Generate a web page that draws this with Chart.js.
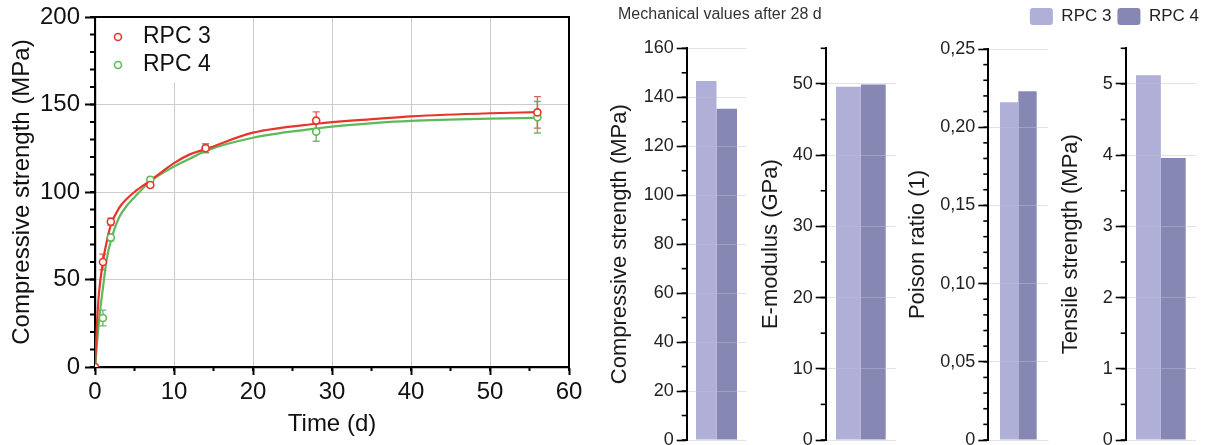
<!DOCTYPE html>
<html>
<head>
<meta charset="utf-8">
<script src="https://cdn.jsdelivr.net/npm/chart.js@4.4.1/dist/chart.umd.min.js"></script>
<style>
  body { margin: 0; background: #fff; overflow: hidden; }
  #wrap { position: relative; width: 1205px; height: 445px; }
  canvas { position: absolute; left: 0; top: 0; }
</style>
</head>
<body>
<div id="wrap">
  <canvas id="growth" width="1205" height="445"></canvas>
  <canvas id="bar1" width="1205" height="445"></canvas>
  <canvas id="bar2" width="1205" height="445"></canvas>
  <canvas id="bar3" width="1205" height="445"></canvas>
  <canvas id="bar4" width="1205" height="445"></canvas>
</div>
<script>
// strength development (measured)
const days = [0, 1, 2, 7, 14, 28, 56];
const rpc3 = [0, 60, 83, 104, 125, 140.8, 145.5];
const rpc4 = [0, 28, 74, 107, 125, 134.5, 142.7];
const rpc3Err = [0, 4.5, 2, 1.5, 2.5, 5, 9];
const rpc4Err = [0, 4.5, 2, 1.5, 2.5, 5.5, 9];

// fitted curves
const fitDays = [0, 0.25, 0.5, 1, 1.5, 2, 3, 4, 5, 7, 10, 12, 14, 20, 28, 36, 40, 50, 56];
const fit3 = [0, 25, 42, 60, 72, 81, 90.5, 96, 100, 106.5, 116.5, 121.5, 124.5, 133.9, 139, 141.9, 143.2, 145, 145.6];
const fit4 = [0, 13, 26, 45, 62, 72, 85, 92, 97, 106, 114.5, 119, 123.5, 131, 136.3, 139.6, 140.6, 141.9, 142.4];

// mechanical values after 28 d
const groups = ['RPC 3', 'RPC 4'];
const compressive28 = [146.6, 135.3];
const eModulus28 = [49.6, 49.9];
const poisson28 = [0.216, 0.223];
const tensile28 = [5.12, 3.96];

const RED = '#e8352b', GREEN = '#5dba5a';
const barColors = ['#afafd7', '#8787b3'];

Chart.defaults.font.family = '"Liberation Sans", Arial, Helvetica, sans-serif';
Chart.defaults.color = '#1a1a1a';

const minorTicks = {
  id: 'minorTicks',
  afterDraw(chart, args, opts) {
    const ctx = chart.ctx;
    ctx.save();
    ctx.strokeStyle = '#000';
    ctx.lineWidth = opts.width || 1.5;
    (opts.axes || []).forEach(a => {
      const sc = chart.scales[a.id];
      const n = Math.round((sc.max - sc.min) / a.step);
      for (let i = 0; i <= n; i++) {
        const p = sc.getPixelForValue(sc.min + i * a.step);
        ctx.beginPath();
        if (sc.isHorizontal()) { ctx.moveTo(p, sc.top); ctx.lineTo(p, sc.top + a.len); }
        else { ctx.moveTo(sc.right - a.len, p); ctx.lineTo(sc.right, p); }
        ctx.stroke();
      }
    });
    ctx.restore();
  }
};

const errorBars = {
  id: 'errorBars',
  beforeDatasetsDraw(chart) {
    const {ctx, scales: {x, y}} = chart;
    chart.data.datasets.forEach(ds => {
      if (!ds.errors) return;
      ctx.save();
      ctx.strokeStyle = ds.errorColor;
      ctx.lineWidth = 1.4;
      ds.data.forEach((pt, j) => {
        const e = ds.errors[j];
        if (!e) return;
        const px = x.getPixelForValue(pt.x);
        const t = y.getPixelForValue(pt.y + e), b = y.getPixelForValue(pt.y - e);
        ctx.beginPath();
        ctx.moveTo(px, t); ctx.lineTo(px, b);
        ctx.moveTo(px - 3.5, t); ctx.lineTo(px + 3.5, t);
        ctx.moveTo(px - 3.5, b); ctx.lineTo(px + 3.5, b);
        ctx.stroke();
      });
      ctx.restore();
    });
  }
};

const markerLegend = {
  id: 'markerLegend',
  beforeDatasetsDraw(chart, args, o) {
    const {ctx, chartArea: a} = chart;
    ctx.save();
    ctx.fillStyle = '#fff';
    ctx.fillRect(a.left + 1.5, a.top + 1.5, o.boxW, o.boxH);
    ctx.restore();
  },
  afterDraw(chart, args, o) {
    const {ctx, chartArea: a} = chart;
    const items = chart.data.datasets.filter(d => d.errors);
    ctx.save();
    ctx.font = o.font;
    ctx.textBaseline = 'middle';
    items.forEach((d, i) => {
      const y = a.top + o.y + i * o.row;
      ctx.beginPath();
      ctx.arc(a.left + o.x, y, d.pointRadius, 0, Math.PI * 2);
      ctx.fillStyle = '#fff';
      ctx.fill();
      ctx.lineWidth = d.pointBorderWidth;
      ctx.strokeStyle = d.borderColor;
      ctx.stroke();
      ctx.fillStyle = '#111';
      ctx.fillText(d.label, a.left + o.x + o.gap, y);
    });
    ctx.restore();
  }
};

const frameBox = {
  id: 'frameBox',
  afterDraw(chart) {
    const {ctx, chartArea: a} = chart;
    ctx.save();
    ctx.strokeStyle = '#000';
    ctx.lineWidth = 2;
    ctx.beginPath();
    ctx.moveTo(a.left, a.top); ctx.lineTo(a.right, a.top); ctx.lineTo(a.right, a.bottom);
    ctx.stroke();
    ctx.restore();
  }
};

const pts = (xs, ys) => xs.map((d, i) => ({x: d, y: ys[i]}));

new Chart(document.getElementById('growth'), {
  type: 'scatter',
  data: {
    datasets: [
      {label: 'RPC 3 fit', data: pts(fitDays, fit3), showLine: true, borderColor: RED, borderWidth: 2.2,
       pointRadius: 0, cubicInterpolationMode: 'monotone', order: 1},
      {label: 'RPC 4 fit', data: pts(fitDays, fit4), showLine: true, borderColor: GREEN, borderWidth: 2.2,
       pointRadius: 0, cubicInterpolationMode: 'monotone', order: 1},
      {label: 'RPC 3', data: pts(days, rpc3), errors: rpc3Err, errorColor: 'rgba(215,70,70,0.85)',
       pointRadius: 3.5, pointBorderWidth: 1.6, borderColor: RED, backgroundColor: '#fff', order: 0},
      {label: 'RPC 4', data: pts(days, rpc4), errors: rpc4Err, errorColor: 'rgba(95,165,95,0.85)',
       pointRadius: 3.5, pointBorderWidth: 1.6, borderColor: GREEN, backgroundColor: '#fff', order: 0}
    ]
  },
  options: {
    responsive: false, devicePixelRatio: 1, animation: false,
    layout: {padding: {left: 4, right: 636, top: 17, bottom: 2.6}},
    plugins: {
      legend: {display: false}, tooltip: {enabled: false},
      markerLegend: {x: 23, y: 20, row: 28, gap: 25, boxW: 133, boxH: 64,
                     font: '23px "Liberation Sans", Arial, sans-serif'},
      minorTicks: {width: 2, axes: [{id: 'x', step: 5, len: 4}, {id: 'y', step: 10, len: 5}]}
    },
    scales: {
      x: {
        min: 0, max: 60,
        ticks: {stepSize: 10, font: {size: 24}, color: '#111', padding: 3, maxRotation: 0},
        grid: {color: '#cccccc', tickColor: '#000', tickLength: 8, tickWidth: 2},
        border: {color: '#000', width: 2.2},
        title: {display: true, text: 'Time (d)', font: {size: 24}, color: '#111', padding: {top: 4, bottom: 4}},
        afterFit: s => { s.height = 75.4; }
      },
      y: {
        min: 0, max: 200,
        ticks: {stepSize: 50, font: {size: 24}, color: '#111', padding: 5},
        grid: {color: '#cccccc', tickColor: '#000', tickLength: 10, tickWidth: 2},
        border: {color: '#000', width: 2.2},
        title: {display: true, text: 'Compressive strength (MPa)', font: {size: 24}, color: '#111', padding: {top: 4, bottom: 4}},
        afterFit: s => { s.width = 91; s.paddingTop = 0; s.paddingBottom = 0; }
      }
    }
  },
  plugins: [minorTicks, errorBars, markerLegend, frameBox]
});

function barChart(id, values, c) {
  const scales = {
    x: c.topGap ? {
      position: 'top', display: true, ticks: {display: false}, grid: {display: false}, border: {display: false},
      afterFit: s => { s.height = c.topGap; }
    } : {display: false},
    y: {
      min: 0, max: c.max,
      ticks: {stepSize: c.step, includeBounds: false, font: {size: 18}, color: '#222', padding: 3,
              callback: c.fmt || (v => v)},
      grid: {color: 'rgba(190,190,220,0.45)', z: 1, tickColor: '#000', tickLength: 10, tickWidth: 1.6},
      border: {color: '#000', width: 2, z: 2},
      title: {display: true, text: c.title, font: {size: 22}, color: '#1a1a1a', padding: {top: c.titlePad, bottom: 0}},
      afterFit: s => { s.width = c.yWidth; s.paddingTop = 0; s.paddingBottom = 0; }
    }
  };
  if (c.rightGap) {
    scales.yR = {position: 'right', display: true, ticks: {display: false}, grid: {display: false},
                 border: {display: false}, afterFit: s => { s.width = c.rightGap; }};
  }
  return new Chart(document.getElementById(id), {
    type: 'bar',
    data: {
      labels: [''],
      datasets: groups.map((g, i) => ({
        label: g, data: [values[i]], backgroundColor: barColors[i], borderWidth: 0,
        barPercentage: 1, categoryPercentage: c.cat
      }))
    },
    options: {
      responsive: false, devicePixelRatio: 1, animation: false,
      layout: {padding: c.pad},
      plugins: {
        tooltip: {enabled: false},
        legend: c.legend || {display: false},
        title: c.header || {display: false},
        minorTicks: {width: 1.6, axes: [{id: 'y', step: c.minor, len: 5}]}
      },
      scales
    },
    plugins: [minorTicks]
  });
}

// title lineHeight 26.4 -> centre = left + 13.2 + titlePad
barChart('bar1', compressive28, {
  max: 160, step: 20, minor: 10, title: 'Compressive strength (MPa)',
  pad: {left: 618, right: 300, top: 5, bottom: 5}, yWidth: 68.7, titlePad: -11.7, cat: 0.688,
  rightGap: 158.7,
  header: {display: true, text: 'Mechanical values after 28 d', align: 'start', color: '#333',
           font: {size: 16, weight: 'normal'}, padding: {top: 0, bottom: 24.1}}
});

barChart('bar2', eModulus28, {
  max: 55, step: 10, minor: 5, title: 'E-modulus (GPa)',
  pad: {left: 754.4, right: 309, top: 48.3, bottom: 5}, yWidth: 71.3, titlePad: 3.4, cat: 0.707
});

barChart('bar3', poisson28, {
  max: 0.25, step: 0.05, minor: 0.01, title: 'Poison ratio (1)',
  pad: {left: 901.4, right: 156.6, top: 49, bottom: 5}, yWidth: 86.9, titlePad: 3.4, cat: 0.61,
  fmt: v => v === 0 ? '0' : v.toFixed(2).replace('.', ',')
});

barChart('bar4', tensile28, {
  max: 5.5, step: 1, minor: 0.5, title: 'Tensile strength (MPa)',
  pad: {left: 1010, right: 0, top: 2, bottom: 5}, yWidth: 115.7, titlePad: 47.8, cat: 0.707,
  topGap: 13.3, rightGap: 9,
  legend: {display: true, position: 'top', align: 'end',
           labels: {boxWidth: 23, boxHeight: 17, padding: 6, font: {size: 17}, color: '#222',
                    useBorderRadius: true, borderRadius: 3}}
});
</script>
</body>
</html>
